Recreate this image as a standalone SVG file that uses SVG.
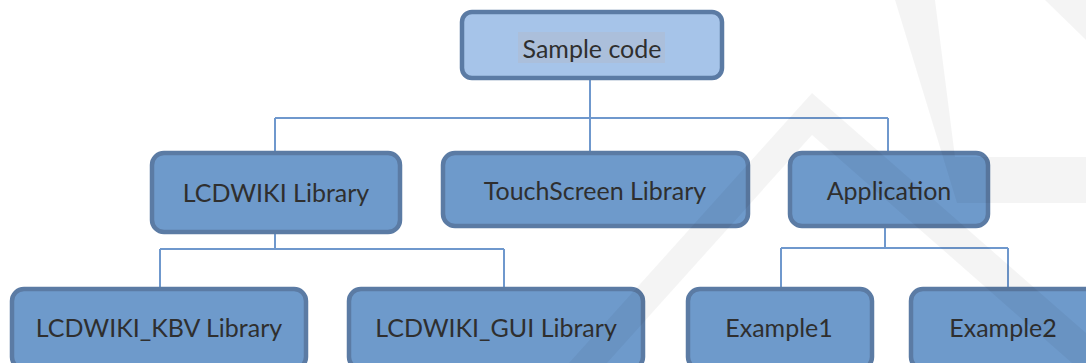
<svg xmlns="http://www.w3.org/2000/svg" width="1086" height="363" viewBox="0 0 1086 363">
<style>
.box{fill:#6e9acb;stroke:#5b7ba4;stroke-width:4.5}
.top{fill:#a6c4e9;stroke:#5b7ba4;stroke-width:4.5}
.lbl{font-family:Lato,"Open Sans",sans-serif;font-size:25px;fill:#2f2f2f;text-anchor:middle;dominant-baseline:central}
.con{fill:none;stroke:#6f98cd;stroke-width:2}
.wm{fill:#000;opacity:0.045}
</style>
<rect width="1086" height="363" fill="#fff"/>
<g id="connectors">
<path class="con" d="M590 80V118M275 118H888M275 118V152M590 118V152M888 118V152"/>
<path class="con" d="M275 232V249M160 249H504M160 249V288M504 249V288"/>
<path class="con" d="M885 226V248M781 248H1008M781 248V288M1008 248V288"/>
</g>
<g id="sample-code">
<rect class="top" x="462" y="12" width="260" height="66" rx="10"/>
<rect x="518" y="32" width="147" height="31" fill="#abbfdb"/>
<text class="lbl" x="592" y="48">Sample code</text>
</g>
<g id="lcdwiki-library">
<rect class="box" x="152" y="153" width="248" height="79" rx="12"/>
<text class="lbl" x="276" y="192">LCDWIKI Library</text>
</g>
<g id="touchscreen-library">
<rect class="box" x="443" y="153" width="305" height="73" rx="12"/>
<text class="lbl" x="595" y="190">TouchScreen Library</text>
</g>
<g id="application">
<rect class="box" x="790" y="153" width="198" height="73" rx="12"/>
<text class="lbl" x="889" y="190">Application</text>
</g>
<g id="lcdwiki-kbv">
<rect class="box" x="12" y="289" width="294" height="80" rx="12"/>
<text class="lbl" x="159" y="327">LCDWIKI_KBV Library</text>
</g>
<g id="lcdwiki-gui">
<rect class="box" x="349" y="289" width="294" height="80" rx="12"/>
<text class="lbl" x="496" y="327">LCDWIKI_GUI Library</text>
</g>
<g id="example1">
<rect class="box" x="688" y="289" width="184" height="80" rx="12"/>
<text class="lbl" x="779" y="327">Example1</text>
</g>
<g id="example2">
<rect class="box" x="911" y="289" width="190" height="80" rx="12"/>
<text class="lbl" x="1003" y="327">Example2</text>
</g>
<g id="watermark">
<polygon class="wm" points="895,0 935,0 955,157 1086,157 1086,203 957,203"/>
<polygon class="wm" points="1045,0 1086,0 1086,40"/>
<polygon class="wm" points="812,93 1086,333 1086,363 1072,363 812,135 607,363 569,363"/>
</g>
</svg>
